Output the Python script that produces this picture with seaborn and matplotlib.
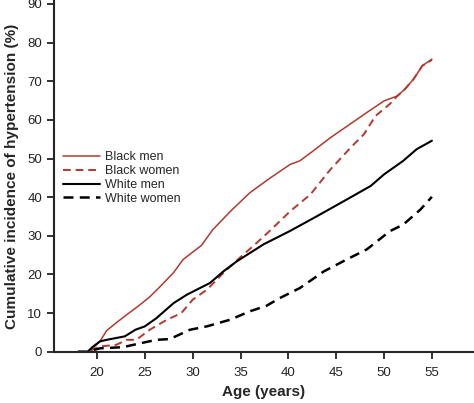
import matplotlib
matplotlib.use("Agg")
import matplotlib.pyplot as plt
import seaborn as sns
import pandas as pd

groups = ["Black men", "Black women", "White men", "White women"]

bm_age = [18, 19, 19.5, 20.3, 21, 22, 23.1, 24.5, 25.5, 26.6, 28, 29, 30.9, 32.1, 34, 36, 38, 40.2, 41.2, 42.5, 44.4, 46.8, 48.2, 50, 51.4, 52.2, 53.1, 54, 55]
bm_inc = [0, 0, 0.8, 2.7, 5.5, 7.5, 9.6, 12.2, 14.2, 16.9, 20.5, 23.9, 27.5, 31.6, 36.5, 41.2, 44.8, 48.5, 49.4, 51.8, 55.4, 59.5, 61.9, 64.9, 66.2, 68, 70.6, 74, 75.7]

bw_age = [18, 19, 19.5, 20.3, 22, 23.1, 24.1, 25.5, 27.3, 28.8, 30, 31.5, 33.2, 34.9, 36.7, 38.1, 40.2, 42.3, 44.4, 46.5, 47.9, 49.1, 50.6, 51.4, 52.2, 53.1, 54, 55]
bw_inc = [0, 0, 0.5, 1.4, 1.8, 3.1, 3.1, 5.7, 8.3, 10, 13.5, 16.1, 20.4, 24.3, 28.2, 31.4, 36.4, 40.7, 47.2, 52.8, 56.3, 61, 64.1, 66.2, 68, 70.6, 74, 75.5]

wm_age = [18, 19, 19.5, 20.3, 21, 22.9, 24, 25, 26.2, 28, 29.4, 31.8, 33.2, 34.6, 36, 37.4, 40.2, 43, 46.1, 48.6, 50, 52, 53.4, 55]
wm_inc = [0, 0, 1.2, 2.7, 3.1, 4, 5.7, 6.6, 8.7, 12.6, 14.8, 17.8, 20.8, 23.4, 25.6, 27.8, 31.3, 35.1, 39.4, 42.9, 45.9, 49.4, 52.4, 54.6]

ww_age = [18, 19, 19.5, 20.3, 22.7, 24.5, 26.2, 27.6, 29.7, 31.5, 33.9, 36, 37.7, 39.1, 41.2, 43.7, 46.1, 48.2, 50.6, 52, 53.8, 55]
ww_inc = [0, 0, 0.4, 0.9, 1.2, 2.2, 3.1, 3.3, 5.7, 6.6, 8.3, 10.5, 11.9, 13.9, 16.5, 20.8, 23.9, 26.5, 31.2, 32.9, 36.8, 40.1]

x_ticks = [20, 25, 30, 35, 40, 45, 50, 55]
y_ticks = [0, 10, 20, 30, 40, 50, 60, 70, 80, 90]

frames = []
for g, a, v in zip(groups, [bm_age, bw_age, wm_age, ww_age], [bm_inc, bw_inc, wm_inc, ww_inc]):
    frames.append(pd.DataFrame({"age": a, "inc": v, "group": g}))
df = pd.concat(frames, ignore_index=True)

sns.set_style("ticks")
plt.rcParams["font.family"] = ["Liberation Sans", "DejaVu Sans"]

red = "#b03a2e"
palette = {"Black men": red, "Black women": red, "White men": "#000000", "White women": "#000000"}
dashes = {"Black men": "", "Black women": (4, 2.5), "White men": "", "White women": (4, 2.5)}
sizes = {"Black men": 1.1, "Black women": 1.4, "White men": 1.5, "White women": 1.8}

fig = plt.figure(figsize=(4.74, 4.03), dpi=100)
ax = fig.add_axes([0.114, 0.127, 0.886, 0.873])

sns.lineplot(data=df, x="age", y="inc", hue="group", style="group", size="group",
             hue_order=groups, style_order=groups, size_order=groups,
             palette=palette, dashes=dashes, sizes=sizes,
             estimator=None, sort=False, ax=ax)

ax.set_xlim(15.5, 59.4)
ax.set_ylim(0, 91)
ax.set_xticks(x_ticks)
ax.set_yticks(y_ticks)
ax.tick_params(axis="both", labelsize=9.5, length=5, width=1.3, direction="out", colors="#222222")
ax.tick_params(axis="x", pad=6)
for s in ["left", "bottom"]:
    ax.spines[s].set_linewidth(1.5)
sns.despine(ax=ax)

ax.set_xlabel("Age (years)", fontsize=11, fontweight="bold", labelpad=4)
ax.set_ylabel("Cumulative incidence of hypertension (%)", fontsize=11, fontweight="bold", labelpad=6)

handles, labels = ax.get_legend_handles_labels()
leg = ax.legend(handles, labels, loc="upper left", bbox_to_anchor=(0.0, 0.595),
                frameon=False, fontsize=9, handlelength=3.0, handletextpad=0.4,
                labelspacing=0.15, borderaxespad=0.3)

fig.savefig("out.png", dpi=100)
